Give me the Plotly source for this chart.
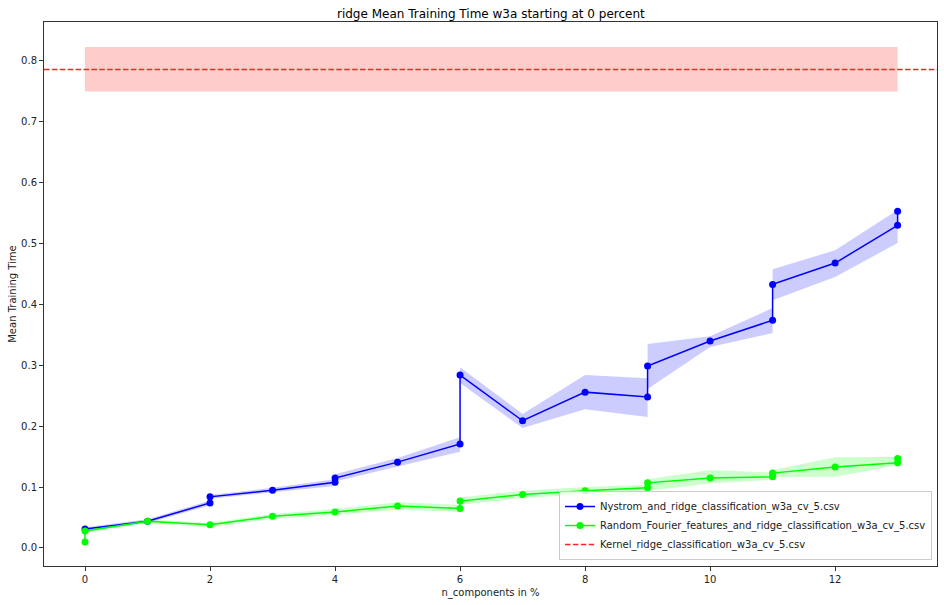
import plotly.graph_objects as go

# Nystrom + ridge (mean and mean +/- std)
nys_x = [0, 1, 2, 2, 3, 4, 4, 5, 6, 6, 7, 8, 9, 9, 10, 11, 11, 12, 13, 13]
nys_mean = [0.031, 0.044, 0.074, 0.084, 0.095, 0.108, 0.115, 0.141, 0.171, 0.284,
            0.209, 0.256, 0.248, 0.299, 0.340, 0.374, 0.433, 0.468, 0.530, 0.553]
nys_upper = [0.034, 0.047, 0.078, 0.087, 0.099, 0.113, 0.121, 0.148, 0.182, 0.297,
             0.220, 0.284, 0.279, 0.335, 0.348, 0.394, 0.458, 0.489, 0.555, 0.571]
nys_lower = [0.028, 0.041, 0.070, 0.081, 0.091, 0.102, 0.109, 0.134, 0.158, 0.271,
             0.197, 0.228, 0.215, 0.261, 0.330, 0.353, 0.407, 0.445, 0.501, 0.535]

# Random Fourier features + ridge
rff_x = [0, 0, 1, 2, 3, 4, 5, 6, 6, 7, 8, 9, 9, 10, 11, 11, 12, 13, 13]
rff_mean = [0.010, 0.028, 0.044, 0.038, 0.052, 0.059, 0.069, 0.065, 0.077, 0.088,
            0.094, 0.099, 0.107, 0.115, 0.117, 0.123, 0.133, 0.140, 0.147]
rff_upper = [0.012, 0.031, 0.047, 0.041, 0.056, 0.064, 0.075, 0.071, 0.083, 0.094,
             0.100, 0.104, 0.113, 0.128, 0.124, 0.128, 0.149, 0.150, 0.152]
rff_lower = [0.008, 0.025, 0.041, 0.034, 0.048, 0.054, 0.063, 0.059, 0.071, 0.082,
             0.088, 0.087, 0.094, 0.106, 0.112, 0.116, 0.117, 0.136, 0.140]

# Kernel ridge (constant)
kernel_mean = 0.786
kernel_upper = 0.823
kernel_lower = 0.750
kernel_span = [0, 13]

x_range = [-0.656, 13.63]
y_range = [-0.0296, 0.864]

fig = go.Figure()


def band(xs, up, lo, color):
    return go.Scatter(x=list(xs) + list(xs)[::-1], y=list(up) + list(lo)[::-1],
                      fill="toself", fillcolor=color, line=dict(width=0),
                      mode="lines", showlegend=False, hoverinfo="skip")


fig.add_trace(band(kernel_span, [kernel_upper] * 2, [kernel_lower] * 2, "rgba(255,0,0,0.2)"))
fig.add_trace(band(nys_x, nys_upper, nys_lower, "rgba(0,0,255,0.2)"))
fig.add_trace(band(rff_x, rff_upper, rff_lower, "rgba(0,255,0,0.2)"))

fig.add_trace(go.Scatter(x=nys_x, y=nys_mean, mode="lines+markers",
                         name="Nystrom_and_ridge_classification_w3a_cv_5.csv",
                         line=dict(color="#0000ff", width=1.5),
                         marker=dict(color="#0000ff", size=7)))
fig.add_trace(go.Scatter(x=rff_x, y=rff_mean, mode="lines+markers",
                         name="Random_Fourier_features_and_ridge_classification_w3a_cv_5.csv",
                         line=dict(color="#00ff00", width=1.5),
                         marker=dict(color="#00ff00", size=7)))
fig.add_trace(go.Scatter(x=x_range, y=[kernel_mean] * 2, mode="lines",
                         name="Kernel_ridge_classification_w3a_cv_5.csv",
                         line=dict(color="#ff2020", width=1.5, dash="5.5px,2.4px")))

axis_style = dict(showline=True, linecolor="#333", linewidth=1, mirror=True,
                  ticks="outside", ticklen=4, tickcolor="#333", showgrid=False,
                  zeroline=False, automargin=False, tickfont=dict(size=10, color="#222"))

fig.update_xaxes(range=x_range, tickvals=[0, 2, 4, 6, 8, 10, 12],
                 title=dict(text="n_components in %", font=dict(size=10, color="#222"), standoff=4),
                 **axis_style)
fig.update_yaxes(range=y_range, tickvals=[0, 0.1, 0.2, 0.3, 0.4, 0.5, 0.6, 0.7, 0.8],
                 tickformat=".1f",
                 title=dict(text="Mean Training Time", font=dict(size=10, color="#222"), standoff=2),
                 **axis_style)

fig.update_layout(
    width=944, height=605,
    margin=dict(l=44, r=7, t=22, b=39, autoexpand=False),
    paper_bgcolor="white", plot_bgcolor="white",
    font=dict(family="DejaVu Sans", color="#222"),
    title=dict(text="ridge Mean Training Time w3a starting at 0 percent",
               font=dict(size=12, color="#000"), x=0.52, xanchor="center",
               y=0.978, yanchor="middle"),
    legend=dict(x=0.9944, y=0.011, xanchor="right", yanchor="bottom",
                bordercolor="#ccc", borderwidth=1, bgcolor="rgba(255,255,255,0.8)",
                font=dict(size=10, color="#222"), tracegroupgap=0),
)

# drop the browser's default 8px body margin so the figure fills the window
fig.write_html("out.html", config={"displayModeBar": False},
               post_script="document.body.style.margin = '0px';")
